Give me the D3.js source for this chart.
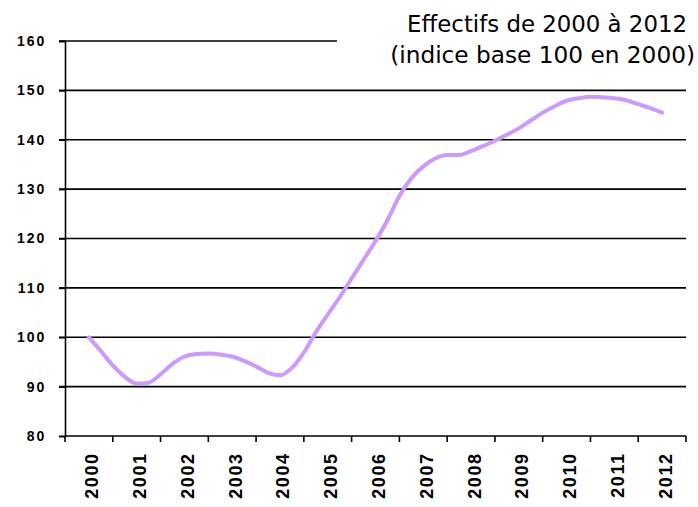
<!DOCTYPE html>
<html>
<head>
<meta charset="utf-8">
<script src="https://cdn.jsdelivr.net/npm/d3@7"></script>
<style>
  html, body { margin: 0; padding: 0; background: #fff; }
  svg { display: block; }
</style>
</head>
<body>
<svg id="chart" width="698" height="507"></svg>
<script>
// Years shown on the category axis
const years = [2000, 2001, 2002, 2003, 2004, 2005, 2006, 2007, 2008, 2009, 2010, 2011, 2012];

// Quarterly headcount index (base 100 in 2000), from 2000 to 2012
const quarterStep = 0.25;
const headcountIndex = [
  100.0, 97.2, 94.3, 92.0,
  90.6, 90.8, 92.5, 94.6,
  96.1, 96.6, 96.7, 96.5,
  96.1, 95.2, 94.1, 92.8,
  92.3, 93.8, 96.9, 101.0,
  104.6, 108.1, 111.9, 115.7,
  119.5, 123.7, 128.6, 132.2,
  134.6, 136.2, 136.9, 136.9,
  137.7, 138.7, 139.8, 141.0,
  142.3, 143.9, 145.5, 146.8,
  147.9, 148.4, 148.7, 148.6,
  148.4, 148.0, 147.2, 146.4,
  145.5
];

// Value axis ticks
const yTicks = [80, 90, 100, 110, 120, 130, 140, 150, 160];

const titleLines = ["Effectifs de 2000 à 2012", "(indice base 100 en 2000)"];

const svg = d3.select("#chart");

const plot = { left: 65, right: 686, top: 41, bottom: 436 };

const y = d3.scaleLinear().domain([80, 160]).range([plot.bottom, plot.top]);
const xBand = d3.scaleBand().domain(years).range([plot.left, plot.right]).padding(0);
const x = d3.scaleLinear()
  .domain([years[0] - 0.5, years[years.length - 1] + 0.5])
  .range([plot.left, plot.right]);

// Horizontal gridlines (the top one stops short, under the title)
svg.append("g")
  .selectAll("line")
  .data(yTicks.filter(d => d !== 80))
  .join("line")
  .attr("x1", plot.left - 6)
  .attr("x2", d => d === 160 ? 337 : plot.right)
  .attr("y1", d => y(d))
  .attr("y2", d => y(d))
  .attr("stroke", "#000")
  .attr("stroke-width", 1.6);

// Value axis
const yAxis = svg.append("g")
  .attr("transform", `translate(${plot.left},0)`)
  .call(d3.axisLeft(y).tickValues(yTicks).tickSize(6).tickPadding(12.7));
yAxis.select(".domain").attr("stroke", "#000").attr("stroke-width", 1.6);
yAxis.selectAll(".tick line").attr("stroke", "#000").attr("stroke-width", 1.6);
yAxis.selectAll(".tick text")
  .attr("font-family", "Liberation Sans, Arial, sans-serif")
  .attr("font-weight", "bold")
  .attr("font-size", 14)
  .attr("letter-spacing", 2)
  .attr("fill", "#000");

// Category axis: ticks between years, labels rotated
const xAxisG = svg.append("g").attr("transform", `translate(0,${plot.bottom})`);
xAxisG.append("line")
  .attr("x1", plot.left).attr("x2", plot.right)
  .attr("y1", 0).attr("y2", 0)
  .attr("stroke", "#000").attr("stroke-width", 1.6);
const boundaries = years.map(d => d - 0.5).concat([years[years.length - 1] + 0.5]);
xAxisG.selectAll("line.tick")
  .data(boundaries)
  .join("line")
  .attr("class", "tick")
  .attr("x1", d => x(d)).attr("x2", d => x(d))
  .attr("y1", 0).attr("y2", 6)
  .attr("stroke", "#000").attr("stroke-width", 1.6);
xAxisG.selectAll("text")
  .data(years)
  .join("text")
  .attr("transform", d => `translate(${xBand(d) + xBand.bandwidth() / 2 + 9.5},16.3) rotate(-90)`)
  .attr("text-anchor", "end")
  .attr("font-family", "Liberation Sans, Arial, sans-serif")
  .attr("font-weight", "bold")
  .attr("font-size", 18)
  .attr("letter-spacing", 1.6)
  .attr("fill", "#000")
  .text(d => d);

// Index line
const line = d3.line()
  .x((d, i) => x(years[0] + i * quarterStep))
  .y(d => y(d))
  .curve(d3.curveMonotoneX);

svg.append("path")
  .datum(headcountIndex)
  .attr("d", line)
  .attr("fill", "none")
  .attr("stroke", "#cc99ff")
  .attr("stroke-width", 4)
  .attr("stroke-linecap", "round")
  .attr("stroke-linejoin", "round");

// Title, right aligned; font size chosen so each line spans its target width
const titleGeom = [
  { x: 687, y: 31.7, width: 280 },
  { x: 695, y: 62.7, width: 305 }
];
const titleText = svg.append("g")
  .selectAll("text")
  .data(titleLines)
  .join("text")
  .attr("x", (d, i) => titleGeom[i].x)
  .attr("y", (d, i) => titleGeom[i].y)
  .attr("text-anchor", "end")
  .attr("font-family", "DejaVu Sans, Verdana, sans-serif")
  .attr("font-size", 24)
  .attr("fill", "#000")
  .text(d => d);
titleText.each(function (d, i) {
  const natural = this.getComputedTextLength();
  d3.select(this).attr("font-size", 24 * titleGeom[i].width / natural);
});
</script>
</body>
</html>
